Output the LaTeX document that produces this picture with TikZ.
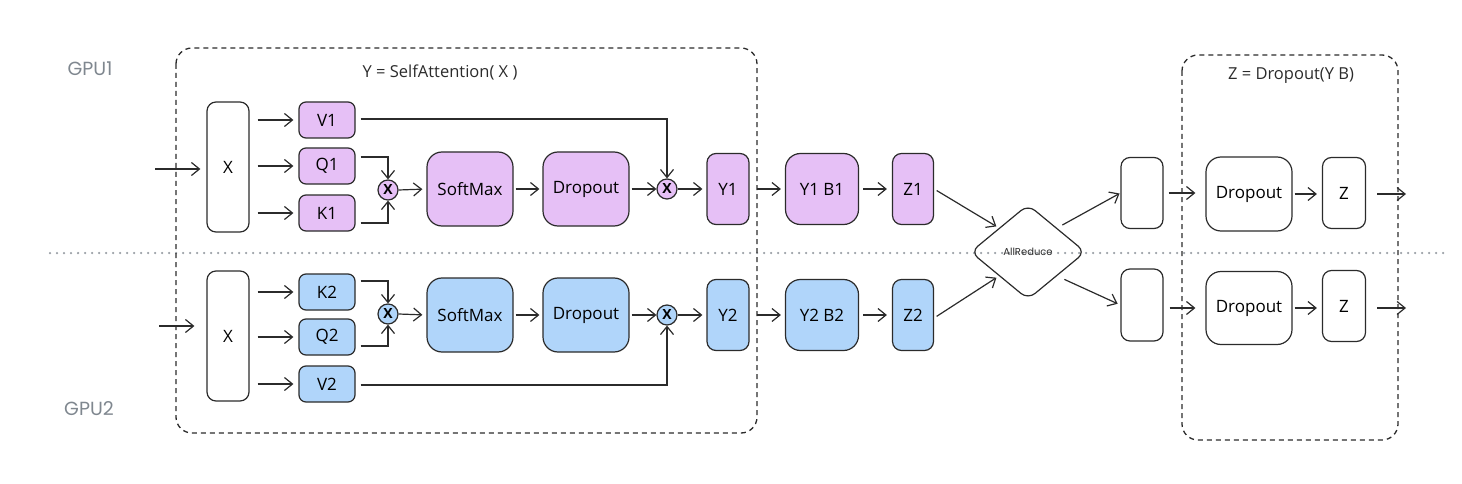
\documentclass[tikz,border=0pt]{standalone}
\usepackage{fontspec}
\setmainfont{Open Sans}
\newfontfamily\gpufont{Poppins}
\usetikzlibrary{arrows.meta,shapes.geometric,calc}
\definecolor{stroke}{HTML}{2B2B2B}
\definecolor{pur}{HTML}{E6C0F6}
\definecolor{blu}{HTML}{B0D5FA}
\definecolor{gpugray}{HTML}{7F878F}
\definecolor{dotgray}{HTML}{9AA0A6}
\tikzset{
  box/.style={draw=stroke, line width=1.2pt, rounded corners=7pt, inner sep=0pt, align=center,
    font=\fontsize{17}{20}\selectfont},
  small/.style={box, minimum width=56pt, minimum height=36pt},
  tallx/.style={box, minimum width=42pt, minimum height=130pt, rounded corners=9pt},
  big/.style={box, minimum width=86pt, minimum height=74pt, rounded corners=15pt},
  mid/.style={box, minimum width=73pt, minimum height=71pt, rounded corners=15pt},
  narrow/.style={box, minimum width=42pt, minimum height=71pt, rounded corners=9pt},
  mul/.style={circle, draw=stroke, line width=1.2pt, minimum size=20pt, inner sep=0pt,
    font=\fontsize{14}{14}\selectfont\bfseries},
  arr/.style={draw=stroke, line width=1.2pt, -{Straight Barb[length=8pt,width=13pt,line width=1.2pt]}},
  frame/.style={draw=stroke, line width=1.3pt, dash pattern=on 5pt off 4pt, rounded corners=16pt},
  gpu/.style={text=gpugray, font=\gpufont\fontsize{19}{21}\selectfont},
  ttl/.style={font=\fontsize{16.5}{19}\selectfont, text=stroke},
}
\begin{document}
\begin{tikzpicture}[x=1pt,y=-1pt]
\useasboundingbox (0,0) rectangle (1462,484);
% separator
\draw[dotgray, line width=2.5pt, line cap=round, dash pattern=on 0pt off 7pt] (50,253) -- (1450,253);
% frames
\draw[frame] (176,48) rectangle (757,433);
\draw[frame] (1182,55) rectangle (1398,440);
\node[ttl] (t1) at (440,72) {Y = SelfAttention( X )};
\node[ttl] (t2) at (1291,76) {Z = Dropout(Y B)};
\node[gpu] (g1) at (90,69) {GPU1};
\node[gpu] (g2) at (89,409) {GPU2};

% ---- top row ----
\node[tallx] (X1) at (228,167) {X};
\node[small, fill=pur] (V1) at (327,120) {V1};
\node[small, fill=pur] (Q1) at (327,166) {Q1};
\node[small, fill=pur] (K1) at (327,213) {K1};
\node[mul, fill=pur] (m1) at (388,190) {X};
\node[big, fill=pur] (S1) at (470,189) {SoftMax};
\node[big, fill=pur] (D1) at (586,189) {Dropout};
\node[mul, fill=pur] (m2) at (667,189) {X};
\node[narrow, fill=pur] (Y1) at (728,189) {Y1};
\node[mid, fill=pur] (YB1) at (822,189) {Y1 B1};
\node[narrow, minimum width=41pt, fill=pur] (Z1) at (913,189) {Z1};
\node[narrow, minimum height=71pt] (E1) at (1142,193) {};
\node[big] (RD1) at (1249,194) {Dropout};
\node[narrow, minimum width=43pt] (RZ1) at (1344,193) {Z};
\coordinate (in1) at (155,169);
\coordinate (out1) at (1406,194);

% ---- bottom row ----
\node[tallx] (X2) at (228,336) {X};
\node[small, fill=blu] (K2) at (327,292) {K2};
\node[small, fill=blu] (Q2) at (327,337) {Q2};
\node[small, fill=blu] (V2) at (327,384) {V2};
\node[mul, fill=blu] (m3) at (388,314) {X};
\node[big, fill=blu] (S2) at (470,315) {SoftMax};
\node[big, fill=blu] (D2) at (586,315) {Dropout};
\node[mul, fill=blu] (m4) at (667,315) {X};
\node[narrow, fill=blu] (Y2) at (728,315) {Y2};
\node[mid, fill=blu] (YB2) at (822,315) {Y2 B2};
\node[narrow, minimum width=41pt, fill=blu] (Z2) at (913,315) {Z2};
\node[narrow, minimum height=72pt] (E2) at (1142,305) {};
\node[big, minimum height=73pt] (RD2) at (1249,308) {Dropout};
\node[narrow, minimum width=43pt] (RZ2) at (1344,306) {Z};
\coordinate (in2) at (159,326);
\coordinate (out2) at (1406,308);

% AllReduce
\node[diamond, draw=stroke, line width=1.2pt, rounded corners=9pt, minimum width=115pt, minimum height=95pt,
  inner sep=0pt, font=\gpufont\fontsize{10}{12}\selectfont, text=stroke] (AR) at (1028,252) {AllReduce};

% ---- top connectors ----
\draw[arr, shorten >=6pt] (in1) -- (X1.west |- in1);
\foreach \n in {V1,Q1,K1} \draw[arr, shorten <=8pt, shorten >=5pt] (X1.east |- \n.west) -- (\n.west);
\draw[arr, shorten <=5pt] ([yshift=9pt]Q1.east) -| (m1.north);
\draw[arr, shorten <=5pt] ([yshift=-10pt]K1.east) -| (m1.south);
\draw[arr, shorten >=4pt] (m1.east) -- (S1.west);
\draw[arr, shorten <=2pt, shorten >=3pt] (S1.east) -- (D1.west);
\draw[arr, shorten <=2pt] (D1.east) -- (m2.west);
\draw[arr, shorten >=4pt] (m2.east) -- (Y1.west);
\draw[arr, shorten <=5pt] ([yshift=1pt]V1.east) -| (m2.north);
\draw[arr, shorten <=7pt, shorten >=4pt] (Y1.east) -- (YB1.west);
\draw[arr, shorten <=4pt, shorten >=5pt] (YB1.east) -- (Z1.west);
\draw[arr, shorten <=3pt, shorten >=3pt] (Z1.east) -- (AR.north west);
\draw[arr, shorten <=6pt, shorten >=1pt] (AR.north east) -- (E1.west);
\draw[arr, shorten <=5pt, shorten >=10pt] (E1.east) -- (E1.east -| RD1.west);
\draw[arr, shorten <=2pt, shorten >=5pt] (RD1.east) -- (RD1.east -| RZ1.west);
\draw[arr, shorten <=11pt] (RZ1.east |- out1) -- (out1);

% ---- bottom connectors ----
\draw[arr, shorten >=12pt] (in2) -- (X2.west |- in2);
\foreach \n in {K2,Q2,V2} \draw[arr, shorten <=8pt, shorten >=5pt] (X2.east |- \n.west) -- (\n.west);
\draw[arr, shorten <=5pt] ([yshift=11pt]K2.east) -| (m3.north);
\draw[arr, shorten <=5pt] ([yshift=-9pt]Q2.east) -| (m3.south);
\draw[arr, shorten >=4pt] (m3.east) -- (S2.west);
\draw[arr, shorten <=2pt, shorten >=3pt] (S2.east) -- (D2.west);
\draw[arr, shorten <=2pt] (D2.east) -- (m4.west);
\draw[arr, shorten >=4pt] (m4.east) -- (Y2.west);
\draw[arr, shorten <=5pt] ([yshift=-1pt]V2.east) -| (m4.south);
\draw[arr, shorten <=7pt, shorten >=4pt] (Y2.east) -- (YB2.west);
\draw[arr, shorten <=4pt, shorten >=5pt] (YB2.east) -- (Z2.west);
\draw[arr, shorten <=3pt, shorten >=3pt] ([yshift=-3pt]Z2.east) -- (AR.south west);
\draw[arr, shorten <=8pt, shorten >=3pt] (AR.south east) -- (E2.west);
\draw[arr, shorten <=6pt, shorten >=10pt] (E2.east |- RD2.west) -- (RD2.west);
\draw[arr, shorten <=2pt, shorten >=5pt] (RD2.east) -- (RD2.east -| RZ2.west);
\draw[arr, shorten <=11pt] (RZ2.east |- out2) -- (out2);
\end{tikzpicture}
\end{document}
